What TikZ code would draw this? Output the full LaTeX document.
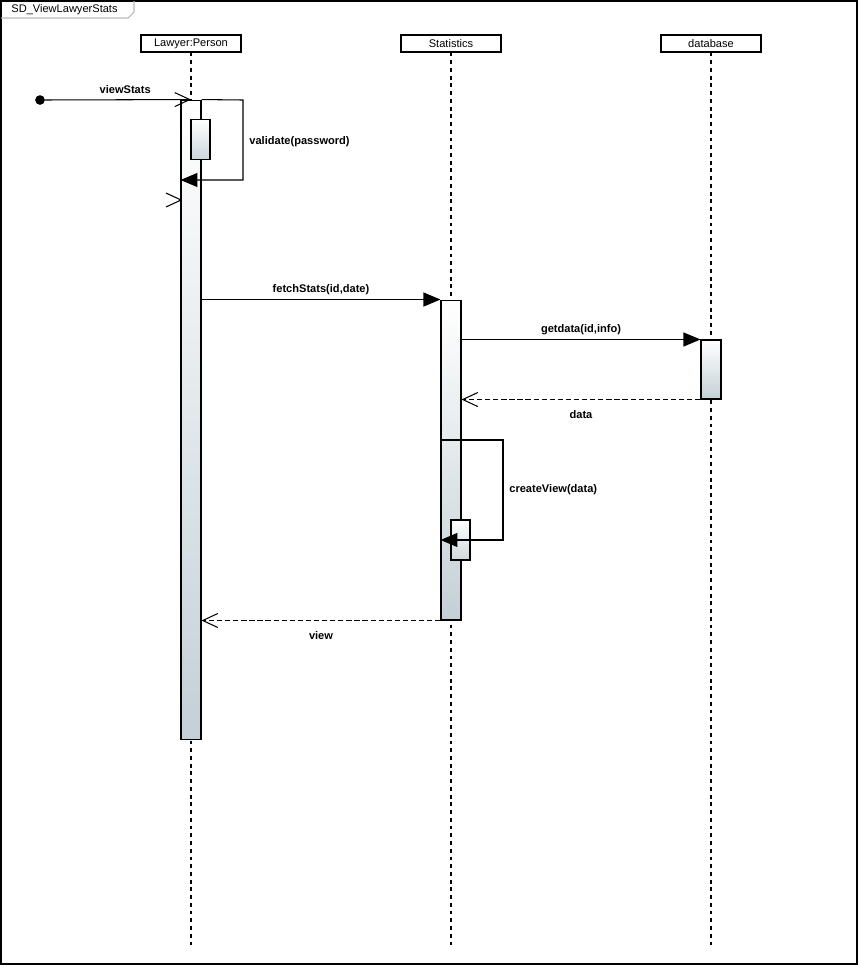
\documentclass[tikz,border=0pt]{standalone}
\usepackage{fontspec}
\setmainfont{Liberation Sans}
\usetikzlibrary{arrows.meta, calc}
\definecolor{actgrey}{RGB}{196,208,214}
\definecolor{tabgrey}{RGB}{185,185,185}

\begin{document}
\begin{tikzpicture}[
  x=0.02cm, y=-0.02cm, line width=0.6pt,
  every node/.style={font=\fontsize{6.3}{7}\selectfont},
  lifebox/.style={draw, inner sep=0, minimum width=2cm, minimum height=0.34cm},
  lifeline/.style={dash pattern=on 2.2pt off 2.2pt},
  act/.style={draw, inner sep=0, minimum width=0.4cm, top color=white, bottom color=actgrey},
  subact/.style={act, minimum width=0.38cm, minimum height=0.79cm, bottom color=actgrey!85},
  msg/.style={font=\fontsize{6.3}{7}\selectfont\bfseries},
  msgbelow/.style={msg, below, yshift=-0.1cm},
  call/.style={-{Triangle[length=0.34cm, width=0.28cm]}},
  reply/.style={dash pattern=on 3pt off 1.6pt, -{Straight Barb[length=0.3cm, width=0.28cm]}},
  found/.style={draw, circle, fill=black, inner sep=0, minimum size=0.17cm}
]
  \useasboundingbox (0,0) rectangle (859,965);

  % frame and title tab
  \draw (1,1) rectangle (857,964);
  \draw[tabgrey] (1,18) -- (128,18) -- (134,12) -- (134,1);
  \node[anchor=west] (title) at (5,10) {SD\_ViewLawyerStats};

  % lifelines
  \node[lifebox] (lawyer) at (191,43.5) {Lawyer:Person};
  \node[lifebox] (stats) at (451,43.5) {Statistics};
  \node[lifebox] (db) at (711,43.5) {database};
  \coordinate (lawyerEnd) at (191,945);
  \coordinate (statsEnd) at (451,945);
  \coordinate (dbEnd) at (711,945);
  \draw[lifeline] (lawyer) -- (lawyerEnd);
  \draw[lifeline] (stats) -- (statsEnd);
  \draw[lifeline] (db) -- (dbEnd);

  % activations
  \node[act, minimum height=12.8cm] (actL) at (191,420) {};
  \node[subact] (actV) at (200.5,139.5) {};
  \node[act, minimum height=6.4cm] (actS) at (451,460) {};
  \node[act, minimum height=1.18cm] (actD) at (711,369.5) {};

  % messages
  \node[found] (start) at (40,100) {};
  \draw[-{Straight Barb[length=0.3cm, width=0.28cm]}] (start) -- node[msg, above, pos=0.55] {viewStats} (actL.north);

  \coordinate (vTop) at (243,100);
  \coordinate (vBot) at (243,180);
  \draw[call] (actL.north east) -- (vTop) -- node[msg, right, pos=0.52] {validate(password)} (vBot) -- (actL.west |- vBot);

  % open head with no line
  \draw (166,193) -- (181,200) -- (166,207);

  \draw[call] (actL.east |- actS.north) -- node[msg, above, yshift=-0.04cm] {fetchStats(id,date)} (actS.north west);
  \draw[call] (actS.east |- actD.north) -- node[msg, above, yshift=-0.04cm] {getdata(id,info)} (actD.north west);
  \draw[reply] (actD.south west) -- node[msgbelow] {data} (actS.east |- actD.south);

  \node[subact, minimum height=0.8cm] (actC) at (460.5,540) {};
  \coordinate (cTop) at (503,440);
  \coordinate (cBot) at (503,540);
  \draw[call] (actS.west |- cTop) -- (cTop) -- node[msg, right] {createView(data)} (cBot) -- (actS.west |- cBot);

  \draw[reply] (actS.south west) -- node[msgbelow] {view} (actL.east |- actS.south);
\end{tikzpicture}
\end{document}
